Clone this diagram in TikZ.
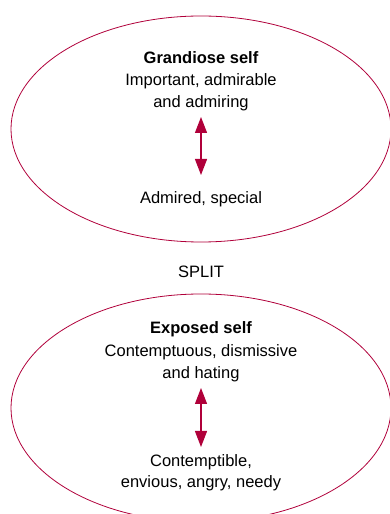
\documentclass[tikz,border=0pt]{standalone}
\usepackage{fontspec}
\setmainfont{Liberation Sans}
\usetikzlibrary{arrows.meta}
\definecolor{splitred}{RGB}{176,0,58}
\tikzset{
  txt/.style={anchor=base,inner sep=0pt,font=\fontsize{16.5}{22}\selectfont},
  ttl/.style={anchor=base,inner sep=0pt,font=\fontsize{16.5}{22}\selectfont\bfseries},
  oval/.style={draw=splitred,line width=0.8pt},
  dbl/.style={draw=splitred,line width=1.3pt,{Triangle[width=12pt,length=16pt]}-{Triangle[width=12pt,length=16pt]}}
}
\begin{document}
\begin{tikzpicture}[x=1pt,y=1pt]
\useasboundingbox (0,0) rectangle (390,514);
\clip (0,0) rectangle (390,514);
% grandiose self
\draw[oval] (201,385) ellipse [x radius=190,y radius=113];
\node[ttl] (grand) at (201,450) {Grandiose self};
\node[txt] (imp) at (201,428) {Important, admirable};
\node[txt] (admiring) at (201,406) {and admiring};
\node[txt] (admired) at (201,310) {Admired, special};
\coordinate (g1) at (201,397);
\coordinate (g2) at (201,339);
\draw[dbl] (g1)--(g2);
% split
\node[txt] (split) at (201,236) {SPLIT};
% exposed self
\draw[oval] (201,106) ellipse [x radius=190,y radius=114];
\node[ttl] (expo) at (201,180) {Exposed self};
\node[txt] (contu) at (201,157) {Contemptuous, dismissive};
\node[txt] (hating) at (201,135) {and hating};
\node[txt] (conti) at (201,47) {Contemptible,};
\node[txt] (envy) at (201,26) {envious, angry, needy};
\coordinate (e1) at (201,126);
\coordinate (e2) at (201,67);
\draw[dbl] (e1)--(e2);
\end{tikzpicture}
\end{document}
